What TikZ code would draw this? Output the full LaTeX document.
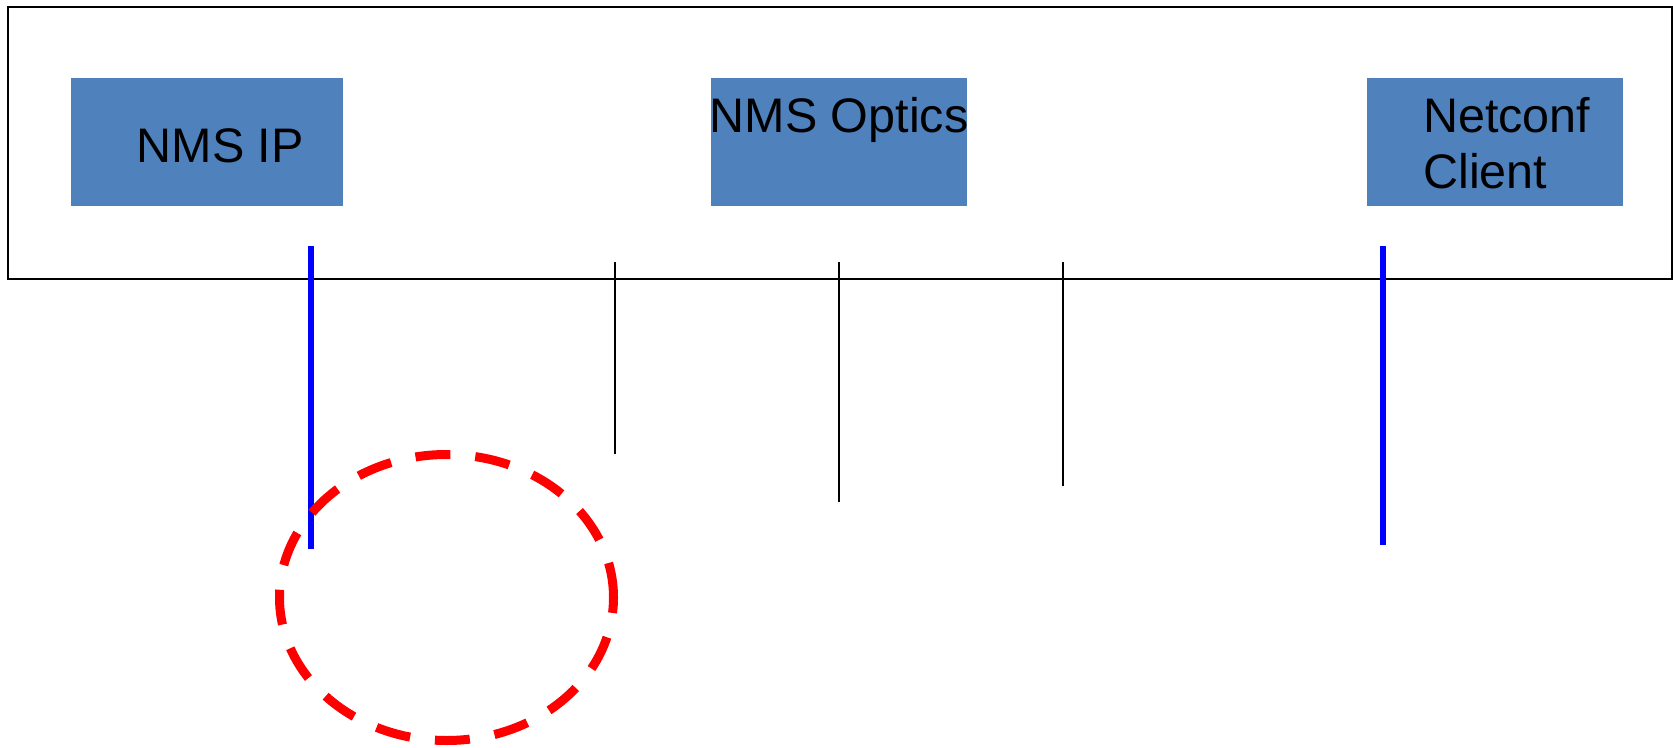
\documentclass[tikz,border=0pt]{standalone}
\usepackage{fontspec}
\setmainfont{Liberation Sans}
\definecolor{boxblue}{HTML}{4F81BD}
\definecolor{linkblue}{HTML}{0000FF}
\definecolor{ringred}{HTML}{FF0000}
\begin{document}
\begin{tikzpicture}[x=1pt,y=-1pt,
  frame/.style={draw=black,line width=2pt},
  unit/.style={fill=boxblue,draw=none,inner sep=0pt,minimum width=#1,minimum height=128pt,anchor=north west},
  label/.style={inner sep=0pt,anchor=base west,font=\fontsize{48.5}{58}\selectfont},
  tap/.style={line width=2pt,draw=black},
  link/.style={line width=6pt,draw=linkblue},
  ring/.style={draw=ringred,line width=9pt,dash pattern=on 35pt off 25pt}]
\useasboundingbox (0,0) rectangle (1673,747);
\fill[white] (0,0) rectangle (1673,747);

% enclosing frame
\node[frame,inner sep=0pt,minimum width=1664pt,minimum height=272pt,anchor=north west] (frame) at (7,6) {};

% management units
\node[unit=272pt] (ip) at (71,78) {};
\node[unit=256pt] (optics) at (711,78) {};
\node[unit=256pt] (client) at (1367,78) {};
\node[label] (ipt) at (136.5,162) {NMS IP};
\node[label] (opt) at (709.5,132) {NMS Optics};
\node[label] (clt1) at (1423,132) {Netconf};
\node[label] (clt2) at (1423,188) {Client};

% blue attachment lines
\coordinate (b1t) at (311,246); \coordinate (b1b) at (311,549);
\coordinate (b2t) at (1383,246); \coordinate (b2b) at (1383,545);
\draw[link] (b1t) -- (b1b);
\draw[link] (b2t) -- (b2b);

% thin drop lines
\coordinate (t1t) at (615,262); \coordinate (t1b) at (615,454);
\coordinate (t2t) at (839,262); \coordinate (t2b) at (839,502);
\coordinate (t3t) at (1063,262); \coordinate (t3b) at (1063,486);
\draw[tap] (t1t) -- (t1b);
\draw[tap] (t2t) -- (t2b);
\draw[tap] (t3t) -- (t3b);

% dashed highlight
\coordinate (rc) at (446.5,597.5);
\draw[ring] (rc) ellipse [x radius=167pt, y radius=143pt];
\end{tikzpicture}
\end{document}
